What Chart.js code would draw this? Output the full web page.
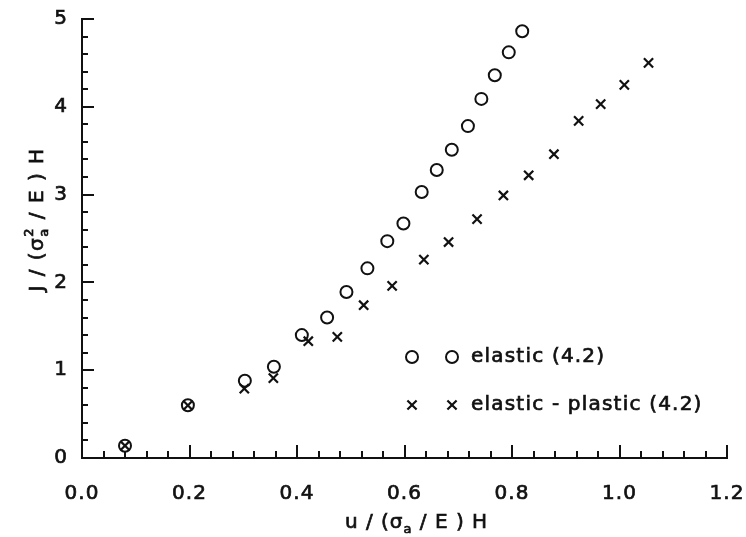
<!DOCTYPE html>
<html><head><meta charset="utf-8">
<script src="https://cdn.jsdelivr.net/npm/chart.js@4/dist/chart.umd.min.js"></script>
<style>html,body{margin:0;padding:0;background:#fff}</style>
</head><body>
<canvas id="c" width="746" height="537" style="display:block;width:746px;height:537px"></canvas>
<script>
// ---- data ----
const elasticX = [0.080, 0.197, 0.303, 0.357, 0.409, 0.456, 0.492, 0.531, 0.568, 0.598, 0.632, 0.660, 0.688, 0.718, 0.743, 0.768, 0.794, 0.819];
const elasticY = [0.14, 0.60, 0.88, 1.04, 1.40, 1.60, 1.89, 2.16, 2.47, 2.67, 3.03, 3.28, 3.51, 3.78, 4.09, 4.36, 4.62, 4.86];
const plasticX = [0.080, 0.197, 0.302, 0.356, 0.421, 0.475, 0.524, 0.577, 0.636, 0.682, 0.735, 0.784, 0.831, 0.878, 0.924, 0.965, 1.009, 1.054];
const plasticY = [0.14, 0.60, 0.79, 0.91, 1.33, 1.38, 1.74, 1.96, 2.26, 2.46, 2.72, 2.99, 3.22, 3.46, 3.84, 4.03, 4.25, 4.50];
const seriesLabels = ['elastic (4.2)', 'elastic - plastic (4.2)'];
const xTickLabels = ['0.0', '0.2', '0.4', '0.6', '0.8', '1.0', '1.2'];
const yTickLabels = ['0', '1', '2', '3', '4', '5'];
const xTitleParts = ['u / (σ', 'a', ' / E ) H'];
const yTitleParts = ['J / (σ', '2', 'a', ' / E ) H'];

const INK = '#111';
const FONT = "'DejaVu Sans', sans-serif";
const STROKE = 0.7;

function toPoints(xs, ys) { return xs.map((x, i) => ({ x: x, y: ys[i] })); }

function majorLabel(value, step, labels) {
  const i = Math.round(value / step);
  if (Math.abs(value - i * step) < 1e-6 && i >= 0 && i < labels.length) return labels[i];
  return '';
}

function drawMarker(ctx, ds, x, y) {
  ctx.save();
  ctx.strokeStyle = ds.borderColor;
  ctx.lineWidth = ds.borderWidth;
  const r = ds.pointRadius;
  ctx.beginPath();
  if (ds.pointStyle === 'circle') {
    ctx.arc(x, y, r, 0, Math.PI * 2);
  } else {
    const d = r * Math.SQRT1_2;
    ctx.moveTo(x - d, y - d); ctx.lineTo(x + d, y + d);
    ctx.moveTo(x - d, y + d); ctx.lineTo(x + d, y - d);
  }
  ctx.stroke();
  ctx.restore();
}

function boldText(ctx, s, x, y) {
  ctx.fillText(s, x, y);
  ctx.lineWidth = STROKE;
  ctx.strokeStyle = INK;
  ctx.strokeText(s, x, y);
}

const spacing = {
  id: 'spacing',
  beforeLayout(chart) { chart.ctx.letterSpacing = '1px'; },
  beforeDraw(chart) { chart.ctx.letterSpacing = '1px'; }
};

const decorations = {
  id: 'decorations',
  afterDraw(chart) {
    const ctx = chart.ctx;
    const xs = chart.scales.x, ys = chart.scales.y;
    ctx.save();
    ctx.strokeStyle = INK;
    ctx.lineWidth = 2;
    ctx.lineCap = 'butt';
    // inward tick marks
    xs.ticks.forEach(t => {
      const px = Math.round(xs.getPixelForValue(t.value));
      const len = t.label !== '' ? 13 : 7;
      ctx.beginPath(); ctx.moveTo(px, ys.bottom); ctx.lineTo(px, ys.bottom - len); ctx.stroke();
    });
    ys.ticks.forEach(t => {
      const py = Math.round(ys.getPixelForValue(t.value));
      const len = t.label !== '' ? 12 : 6;
      ctx.beginPath(); ctx.moveTo(xs.left, py); ctx.lineTo(xs.left + len, py); ctx.stroke();
    });

    // axis titles
    ctx.fillStyle = INK;
    ctx.textBaseline = 'alphabetic';
    ctx.textAlign = 'left';
    const big = '20px ' + FONT, small = '13px ' + FONT;
    // x title
    ctx.letterSpacing = '1px';
    ctx.font = big; const w0 = ctx.measureText(xTitleParts[0]).width;
    ctx.font = small; const w1 = ctx.measureText(xTitleParts[1]).width;
    ctx.font = big; const w2 = ctx.measureText(xTitleParts[2]).width;
    let cx = (xs.left + xs.right) / 2 + 12 - (w0 + w1 + w2) / 2;
    const by = 528;
    ctx.font = big; boldText(ctx, xTitleParts[0], cx, by); cx += w0;
    ctx.font = small; boldText(ctx, xTitleParts[1], cx, by + 5); cx += w1;
    ctx.font = big; boldText(ctx, xTitleParts[2], cx, by);

    // y title (rotated)
    ctx.letterSpacing = '1.5px';
    ctx.save();
    ctx.translate(43, (ys.top + ys.bottom) / 2 - 19);
    ctx.rotate(-Math.PI / 2);
    ctx.font = big; const v0 = ctx.measureText(yTitleParts[0]).width;
    ctx.font = small; const v1 = Math.max(ctx.measureText(yTitleParts[1]).width, ctx.measureText(yTitleParts[2]).width);
    ctx.font = big; const v3 = ctx.measureText(yTitleParts[3]).width;
    let cy = -(v0 + v1 + v3) / 2;
    ctx.font = big; boldText(ctx, yTitleParts[0], cy, 0); cy += v0;
    ctx.font = small; boldText(ctx, yTitleParts[1], cy, -10); boldText(ctx, yTitleParts[2], cy, 5); cy += v1;
    ctx.font = big; boldText(ctx, yTitleParts[3], cy, 0);
    ctx.restore();

    // legend
    const rows = [357, 405];
    chart.data.datasets.forEach((ds, i) => {
      drawMarker(ctx, ds, 412, rows[i]);
      drawMarker(ctx, ds, 452, rows[i]);
      ctx.font = '20px ' + FONT;
      ctx.letterSpacing = '1.2px';
      ctx.textAlign = 'left';
      ctx.textBaseline = 'middle';
      ctx.fillStyle = INK;
      boldText(ctx, ds.label, 471, rows[i]);
    });
    ctx.restore();
  }
};

new Chart(document.getElementById('c'), {
  type: 'scatter',
  data: {
    datasets: [
      { label: seriesLabels[0], data: toPoints(elasticX, elasticY), pointStyle: 'circle', pointRadius: 6, pointHoverRadius: 6, borderWidth: 2, borderColor: INK, backgroundColor: 'rgba(0,0,0,0)', showLine: false },
      { label: seriesLabels[1], data: toPoints(plasticX, plasticY), pointStyle: 'crossRot', pointRadius: 6.5, pointHoverRadius: 6.5, borderWidth: 2.2, borderColor: INK, backgroundColor: INK, showLine: false }
    ]
  },
  options: {
    responsive: false,
    animation: false,
    devicePixelRatio: 1,
    layout: { padding: { top: 19, right: 19, left: 0, bottom: 0 } },
    plugins: { legend: { display: false }, tooltip: { enabled: false } },
    scales: {
      x: {
        type: 'linear', min: 0, max: 1.2,
        grid: { display: false, drawTicks: false },
        border: { display: true, color: INK, width: 2 },
        ticks: {
          stepSize: 0.04, autoSkip: false, maxRotation: 0, minRotation: 0, padding: 24,
          color: INK, font: { family: FONT, size: 20 },
          textStrokeColor: INK, textStrokeWidth: STROKE,
          callback: v => majorLabel(v, 0.2, xTickLabels)
        },
        afterFit: s => { s.height = 79; s.paddingLeft = 0; s.paddingRight = 0; }
      },
      y: {
        type: 'linear', min: 0, max: 5,
        grid: { display: false, drawTicks: false },
        border: { display: true, color: INK, width: 2 },
        ticks: {
          stepSize: 0.2, autoSkip: false, padding: 14,
          color: INK, font: { family: FONT, size: 20 },
          textStrokeColor: INK, textStrokeWidth: STROKE,
          callback: v => majorLabel(v, 1, yTickLabels)
        },
        afterFit: s => { s.width = 82; s.paddingTop = 0; s.paddingBottom = 0; }
      }
    }
  },
  plugins: [spacing, decorations]
});
</script>
</body></html>
